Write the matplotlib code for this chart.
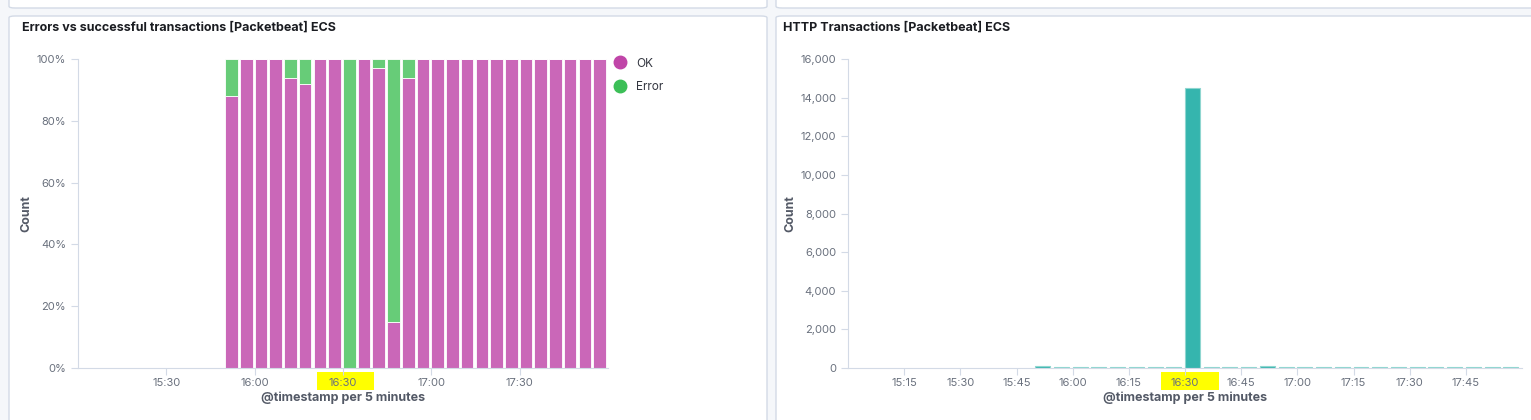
import datetime as dt
import matplotlib
matplotlib.use("Agg")
import matplotlib.pyplot as plt
import matplotlib.dates as mdates
from matplotlib.patches import FancyBboxPatch, Rectangle
from matplotlib.lines import Line2D
from matplotlib.ticker import FuncFormatter, MultipleLocator

plt.rcParams['font.family'] = ['Inter', 'DejaVu Sans']

# data: 5 minute buckets from 15:50 to 17:55
bucket_start = "15:50"
n_buckets = 26
ok_pct = [88, 100, 100, 100, 94, 92, 100, 100, 0, 100, 97, 15, 94,
          100, 100, 100, 100, 100, 100, 100, 100, 100, 100, 100, 100, 100]
error_pct = [12, 0, 0, 0, 6, 8, 0, 0, 100, 0, 3, 85, 6,
             0, 0, 0, 0, 0, 0, 0, 0, 0, 0, 0, 0, 0]
http_counts = [80, 45, 40, 45, 40, 40, 45, 40, 14480, 40, 45, 40, 110,
               45, 40, 40, 45, 40, 40, 45, 40, 40, 40, 45, 40, 40]
left_ticks = ["15:30", "16:00", "16:30", "17:00", "17:30"]
right_ticks = ["15:15", "15:30", "15:45", "16:00", "16:15", "16:30",
               "16:45", "17:00", "17:15", "17:30", "17:45"]

W, H = 1531, 420
day = dt.date(2020, 1, 1)
def t(s):
    h, m = map(int, s.split(":"))
    return dt.datetime.combine(day, dt.time(h, m))

start = t(bucket_start)
times = [start + dt.timedelta(minutes=5 * i) for i in range(n_buckets)]
xmin, xmax = t("15:00"), t("18:00")
five = 5 / (24 * 60)

fig = plt.figure(figsize=(W / 100, H / 100), dpi=100)
fig.patch.set_facecolor("#f5f7fa")

def fx(px):
    return px / W
def fy(py):
    return 1 - py / H

# panels
for (x0, y0, x1, y1) in [(9, -20, 767, 8), (776, -20, 1545, 8), (9, 16, 767, 440), (776, 16, 1545, 440)]:
    fig.patches.append(FancyBboxPatch((fx(x0), fy(y1)), fx(x1 - x0), (y1 - y0) / H,
                                      boxstyle="round,pad=0,rounding_size=0.004",
                                      transform=fig.transFigure, facecolor="white",
                                      edgecolor="#d3dae6", linewidth=1, zorder=-2))

# yellow highlighter
for (x0, x1) in [(317, 374), (1161, 1219)]:
    fig.patches.append(Rectangle((fx(x0), fy(390)), fx(x1 - x0), 18 / H,
                                 transform=fig.transFigure, facecolor="#ffff00",
                                 edgecolor="none", zorder=-1))

fig.text(fx(22), fy(28), "Errors vs successful transactions [Packetbeat] ECS",
         fontsize=9, fontweight="bold", color="#1a1c21", va="center")
fig.text(fx(783), fy(28), "HTTP Transactions [Packetbeat] ECS",
         fontsize=9, fontweight="bold", color="#1a1c21", va="center")

def style(ax):
    ax.set_facecolor("none")
    for s in ["top", "right"]:
        ax.spines[s].set_visible(False)
    for s in ["left", "bottom"]:
        ax.spines[s].set_color("#d3dae6")
    ax.tick_params(colors="#d3dae6", labelcolor="#69707d", labelsize=8, length=5)
    ax.tick_params(axis="x", pad=2)
    ax.set_xlim(xmin, xmax)
    ax.xaxis.set_major_formatter(mdates.DateFormatter("%H:%M"))
    ax.set_xlabel("@timestamp per 5 minutes", fontsize=9, fontweight="bold", color="#535966", labelpad=3)
    ax.set_ylabel("Count", fontsize=9, fontweight="bold", color="#535966", labelpad=0)

# left chart
ax1 = fig.add_axes([fx(78), fy(368), fx(608 - 78), (368 - 59) / H])
style(ax1)
ax1.bar(times, ok_pct, width=five * 0.86, align="edge", color="#ca67b8", edgecolor="white", linewidth=0.6)
ax1.bar(times, error_pct, bottom=ok_pct, width=five * 0.86, align="edge", color="#67cc78", edgecolor="white", linewidth=0.6)
ax1.set_ylim(0, 100)
ax1.yaxis.set_major_locator(MultipleLocator(20))
ax1.yaxis.set_major_formatter(FuncFormatter(lambda v, p: f"{v:.0f}%"))
ax1.set_xticks([t(s) for s in left_ticks])
ax1.yaxis.set_label_coords(-0.087, 0.5)

handles = [Line2D([], [], marker="o", linestyle="none", markersize=9, color="#c045a8"),
           Line2D([], [], marker="o", linestyle="none", markersize=9, color="#3cbf57")]
fig.legend(handles, ["OK", "Error"], loc="upper left", bbox_to_anchor=(fx(598), fy(47)),
           frameon=False, fontsize=8.5, labelcolor="#343741", handletextpad=0.3, labelspacing=0.95)

# right chart
ax2 = fig.add_axes([fx(848), fy(368), fx(1522 - 848), (368 - 59) / H])
style(ax2)
ax2.bar(times, http_counts, width=five * 0.8, align="edge", color="#35b5ae", edgecolor="#8fd6d0", linewidth=0.8)
ax2.set_ylim(0, 16000)
ax2.yaxis.set_major_locator(MultipleLocator(2000))
ax2.yaxis.set_major_formatter(FuncFormatter(lambda v, p: f"{v:,.0f}"))
ax2.set_xticks([t(s) for s in right_ticks])
ax2.yaxis.set_label_coords(-0.077, 0.5)

fig.savefig("out.png", dpi=100)
